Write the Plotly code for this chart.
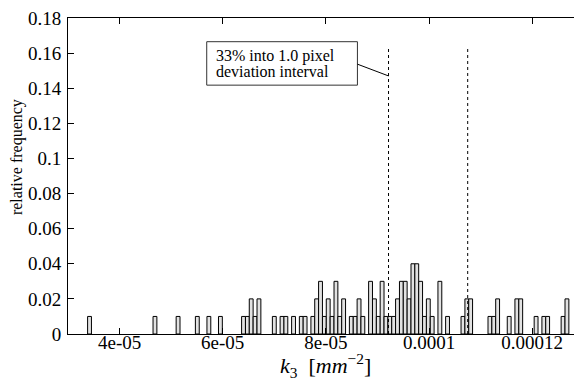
import plotly.graph_objects as go

# ---- data ----
# left edge of each non-empty histogram bin (k3, mm^-2) and its relative frequency
bin_start = [33.80e-6, 46.49e-6, 50.97e-6, 54.70e-6, 56.94e-6, 59.18e-6,
             63.66e-6, 64.41e-6, 65.15e-6, 65.90e-6, 66.65e-6,
             69.63e-6, 71.13e-6, 71.87e-6, 73.36e-6, 74.86e-6, 75.60e-6,
             77.10e-6, 77.84e-6, 78.59e-6, 79.34e-6, 80.08e-6, 80.83e-6,
             81.58e-6, 82.32e-6, 83.07e-6, 84.56e-6, 85.31e-6, 86.06e-6,
             86.80e-6, 88.29e-6, 89.04e-6, 89.79e-6, 90.53e-6, 91.28e-6,
             92.03e-6, 92.77e-6, 93.52e-6, 94.27e-6, 95.01e-6, 95.76e-6,
             96.51e-6, 97.25e-6, 98.00e-6, 98.75e-6, 99.49e-6, 100.24e-6,
             101.73e-6, 103.22e-6, 106.21e-6, 106.96e-6, 107.70e-6,
             111.44e-6, 112.18e-6, 112.93e-6, 115.17e-6, 116.66e-6,
             117.41e-6, 120.39e-6, 121.89e-6, 122.63e-6, 125.62e-6,
             126.37e-6]
rel_freq = [0.01, 0.01, 0.01, 0.01, 0.01, 0.01,
            0.01, 0.01, 0.02, 0.01, 0.02,
            0.01, 0.01, 0.01, 0.01, 0.01, 0.01,
            0.01, 0.02, 0.03, 0.01, 0.02, 0.01,
            0.03, 0.01, 0.02, 0.01, 0.01, 0.02,
            0.01, 0.03, 0.02, 0.01, 0.03, 0.01,
            0.01, 0.01, 0.02, 0.03, 0.03, 0.02,
            0.04, 0.04, 0.03, 0.01, 0.02, 0.01,
            0.03, 0.01, 0.01, 0.02, 0.02,
            0.01, 0.01, 0.02, 0.01, 0.02,
            0.02, 0.01, 0.01, 0.01, 0.01,
            0.02]
bin_width = 0.7465e-6

# 1.0 pixel deviation interval bounds (dotted lines)
interval_bounds = [92.15e-6, 107.5e-6]
interval_height = 0.1635

x_tickvals = [4e-05, 6e-05, 8e-05, 1e-04, 1.2e-04]
x_ticktext = ["4e-05", "6e-05", "8e-05", "0.0001", "0.00012"]
y_tickvals = [0, 0.02, 0.04, 0.06, 0.08, 0.10, 0.12, 0.14, 0.16, 0.18]
y_ticktext = ["0", "0.02", "0.04", "0.06", "0.08", "0.1", "0.12", "0.14", "0.16", "0.18"]

annot_lines = ["33% into 1.0 pixel", "deviation interval"]

FONT = "Liberation Serif, Times New Roman, serif"
FS_TICK = 19
FS_TEXT = 16

fig = go.Figure()
fig.add_trace(go.Bar(
    x=bin_start, y=rel_freq, width=bin_width, offset=0,
    marker=dict(color="#e2e2e2", line=dict(color="black", width=1)),
    showlegend=False, hoverinfo="skip"))

shapes = []
for xb in interval_bounds:
    shapes.append(dict(type="line", xref="x", yref="y", x0=xb, x1=xb,
                       y0=0, y1=interval_height,
                       line=dict(color="black", width=1, dash="dot")))
# annotation box and connector
shapes.append(dict(type="rect", xref="x", yref="y",
                   x0=56.90e-6, x1=86.12e-6, y0=0.14175, y1=0.1665,
                   line=dict(color="#333333", width=1), fillcolor="white"))
shapes.append(dict(type="line", xref="x", yref="y",
                   x0=86.12e-6, y0=0.1537, x1=interval_bounds[0], y1=0.1470,
                   line=dict(color="black", width=1)))

annotations = [
    dict(x=58.4e-6, y=0.1585, xref="x", yref="y", text=annot_lines[0],
         showarrow=False, xanchor="left", yanchor="middle",
         font=dict(family=FONT, size=FS_TEXT, color="black")),
    dict(x=58.4e-6, y=0.1495, xref="x", yref="y", text=annot_lines[1],
         showarrow=False, xanchor="left", yanchor="middle",
         font=dict(family=FONT, size=FS_TEXT, color="black")),
    dict(x=-0.098, y=0.559, xref="paper", yref="paper",
         text="relative frequency", textangle=-90, showarrow=False,
         xanchor="center", yanchor="middle",
         font=dict(family=FONT, size=FS_TEXT, color="black")),
    dict(x=0.502, y=-0.1, xref="paper", yref="paper",
         text="<i>k</i><sub>3</sub>\u00a0\u00a0[<i>mm</i><sup>\u22122</sup>]",
         showarrow=False, xanchor="center", yanchor="middle",
         font=dict(family=FONT, size=22, color="black")),
]

# the page adds an 8px body margin, so the figure is 8px smaller than the window
fig.update_layout(
    width=574, height=375,
    margin=dict(l=60, r=0, t=6, b=49, pad=0),
    paper_bgcolor="white", plot_bgcolor="white",
    font=dict(family=FONT, size=FS_TICK, color="black"),
    shapes=shapes, annotations=annotations,
    showlegend=False,
)
fig.update_xaxes(
    range=[3e-5, 1.2947e-4], tickvals=x_tickvals, ticktext=x_ticktext,
    ticks="inside", ticklen=6, tickcolor="black", showline=True,
    linecolor="black", linewidth=1, mirror="ticks", showgrid=False,
    zeroline=False, tickfont=dict(family=FONT, size=FS_TICK),
    ticklabelstandoff=-9, ticklabeloverflow="allow")
fig.update_yaxes(
    range=[0, 0.18], tickvals=y_tickvals, ticktext=y_ticktext,
    ticks="inside", ticklen=6, tickcolor="black", showline=True,
    linecolor="black", linewidth=1, mirror="ticks", showgrid=False,
    zeroline=False, tickfont=dict(family=FONT, size=FS_TICK),
    ticklabelstandoff=2, ticklabeloverflow="allow")

fig.write_html("out.html")
